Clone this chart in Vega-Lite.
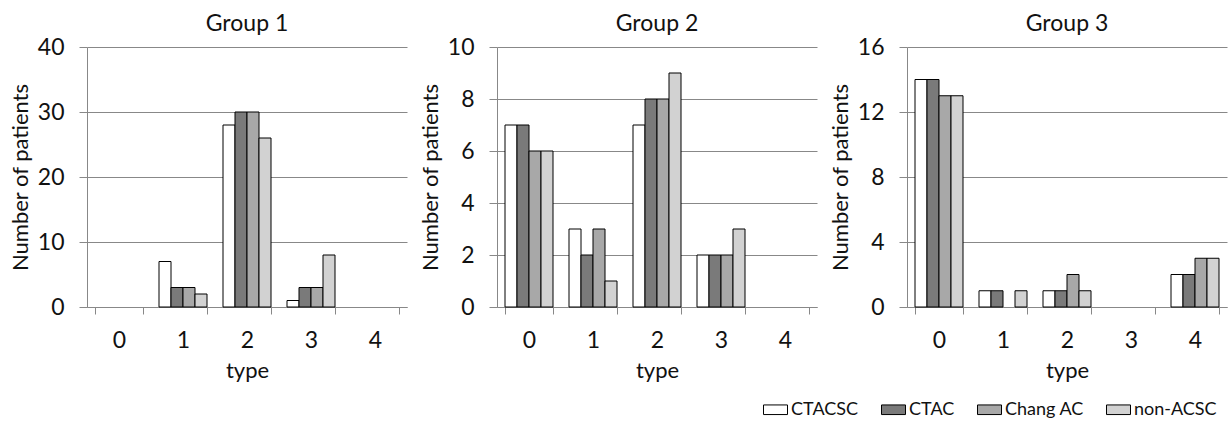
{
  "$schema": "https://vega.github.io/schema/vega-lite/v6.json",
  "background": "white",
  "padding": {"left": 9, "top": 13, "right": 2, "bottom": 0},
  "bounds": "flush",
  "spacing": 90,
  "config": {
    "font": "Lato",
    "view": {"stroke": null},
    "axis": {
      "labelFont": "Lato", "labelColor": "#111", "labelFontSize": 23,
      "titleFont": "Lato", "titleColor": "#111", "titleFontSize": 22, "titleFontWeight": "normal",
      "domainColor": "#888", "tickColor": "#888", "gridColor": "#888", "gridOpacity": 1, "gridWidth": 1
    },
    "title": {"font": "Lato", "fontSize": 23, "fontWeight": "normal", "color": "#111", "frame": "group", "anchor": "middle"}
  },
  "data": {"values": [
    {"group": "Group 1", "type": "1", "series": "CTACSC", "n": 7},
    {"group": "Group 1", "type": "1", "series": "CTAC", "n": 3},
    {"group": "Group 1", "type": "1", "series": "Chang AC", "n": 3},
    {"group": "Group 1", "type": "1", "series": "non-ACSC", "n": 2},
    {"group": "Group 1", "type": "2", "series": "CTACSC", "n": 28},
    {"group": "Group 1", "type": "2", "series": "CTAC", "n": 30},
    {"group": "Group 1", "type": "2", "series": "Chang AC", "n": 30},
    {"group": "Group 1", "type": "2", "series": "non-ACSC", "n": 26},
    {"group": "Group 1", "type": "3", "series": "CTACSC", "n": 1},
    {"group": "Group 1", "type": "3", "series": "CTAC", "n": 3},
    {"group": "Group 1", "type": "3", "series": "Chang AC", "n": 3},
    {"group": "Group 1", "type": "3", "series": "non-ACSC", "n": 8},
    {"group": "Group 2", "type": "0", "series": "CTACSC", "n": 7},
    {"group": "Group 2", "type": "0", "series": "CTAC", "n": 7},
    {"group": "Group 2", "type": "0", "series": "Chang AC", "n": 6},
    {"group": "Group 2", "type": "0", "series": "non-ACSC", "n": 6},
    {"group": "Group 2", "type": "1", "series": "CTACSC", "n": 3},
    {"group": "Group 2", "type": "1", "series": "CTAC", "n": 2},
    {"group": "Group 2", "type": "1", "series": "Chang AC", "n": 3},
    {"group": "Group 2", "type": "1", "series": "non-ACSC", "n": 1},
    {"group": "Group 2", "type": "2", "series": "CTACSC", "n": 7},
    {"group": "Group 2", "type": "2", "series": "CTAC", "n": 8},
    {"group": "Group 2", "type": "2", "series": "Chang AC", "n": 8},
    {"group": "Group 2", "type": "2", "series": "non-ACSC", "n": 9},
    {"group": "Group 2", "type": "3", "series": "CTACSC", "n": 2},
    {"group": "Group 2", "type": "3", "series": "CTAC", "n": 2},
    {"group": "Group 2", "type": "3", "series": "Chang AC", "n": 2},
    {"group": "Group 2", "type": "3", "series": "non-ACSC", "n": 3},
    {"group": "Group 3", "type": "0", "series": "CTACSC", "n": 14},
    {"group": "Group 3", "type": "0", "series": "CTAC", "n": 14},
    {"group": "Group 3", "type": "0", "series": "Chang AC", "n": 13},
    {"group": "Group 3", "type": "0", "series": "non-ACSC", "n": 13},
    {"group": "Group 3", "type": "1", "series": "CTACSC", "n": 1},
    {"group": "Group 3", "type": "1", "series": "CTAC", "n": 1},
    {"group": "Group 3", "type": "1", "series": "non-ACSC", "n": 1},
    {"group": "Group 3", "type": "2", "series": "CTACSC", "n": 1},
    {"group": "Group 3", "type": "2", "series": "CTAC", "n": 1},
    {"group": "Group 3", "type": "2", "series": "Chang AC", "n": 2},
    {"group": "Group 3", "type": "2", "series": "non-ACSC", "n": 1},
    {"group": "Group 3", "type": "4", "series": "CTACSC", "n": 2},
    {"group": "Group 3", "type": "4", "series": "CTAC", "n": 2},
    {"group": "Group 3", "type": "4", "series": "Chang AC", "n": 3},
    {"group": "Group 3", "type": "4", "series": "non-ACSC", "n": 3}
  ]},
  "resolve": {"scale": {"y": "independent"}, "legend": {"color": "independent"}},
  "hconcat": [
    {
      "title": {"text": "Group 1", "offset": 0},
      "width": 320, "height": 260,
      "transform": [{"filter": "datum.group === 'Group 1'"}],
      "mark": {"type": "bar", "stroke": "black", "strokeWidth": 1},
      "encoding": {
        "x": {"field": "type", "type": "ordinal", "scale": {"domain": ["0","1","2","3","4"], "paddingInner": 0.25, "paddingOuter": 0.125},
              "axis": {"title": "type", "labelAngle": 0, "tickBand": "extent", "tickSize": 7, "labelPadding": 15, "titlePadding": 8}},
        "xOffset": {"field": "series", "type": "nominal", "scale": {"domain": ["CTACSC", "CTAC", "Chang AC", "non-ACSC"], "paddingInner": 0, "paddingOuter": 0}},
        "y": {"field": "n", "type": "quantitative", "scale": {"domain": [0, 40]},
              "axis": {"title": "Number of patients", "values": [0, 10, 20, 30, 40], "tickSize": 8, "labelPadding": 15, "titlePadding": 5}},
        "color": {"field": "series", "type": "nominal", "scale": {"domain": ["CTACSC", "CTAC", "Chang AC", "non-ACSC"], "range": ["#ffffff", "#7a7a7a", "#a8a8a8", "#d2d2d2"]}, "legend": null}
      }
    },
    {
      "title": {"text": "Group 2", "offset": 0},
      "width": 320, "height": 260,
      "transform": [{"filter": "datum.group === 'Group 2'"}],
      "mark": {"type": "bar", "stroke": "black", "strokeWidth": 1},
      "encoding": {
        "x": {"field": "type", "type": "ordinal", "scale": {"domain": ["0","1","2","3","4"], "paddingInner": 0.25, "paddingOuter": 0.125},
              "axis": {"title": "type", "labelAngle": 0, "tickBand": "extent", "tickSize": 7, "labelPadding": 15, "titlePadding": 8}},
        "xOffset": {"field": "series", "type": "nominal", "scale": {"domain": ["CTACSC", "CTAC", "Chang AC", "non-ACSC"], "paddingInner": 0, "paddingOuter": 0}},
        "y": {"field": "n", "type": "quantitative", "scale": {"domain": [0, 10]},
              "axis": {"title": "Number of patients", "values": [0, 2, 4, 6, 8, 10], "tickSize": 8, "labelPadding": 15, "titlePadding": 5}},
        "color": {"field": "series", "type": "nominal", "scale": {"domain": ["CTACSC", "CTAC", "Chang AC", "non-ACSC"], "range": ["#ffffff", "#7a7a7a", "#a8a8a8", "#d2d2d2"]}, "legend": null}
      }
    },
    {
      "title": {"text": "Group 3", "offset": 0},
      "width": 320, "height": 260,
      "transform": [{"filter": "datum.group === 'Group 3'"}],
      "mark": {"type": "bar", "stroke": "black", "strokeWidth": 1},
      "encoding": {
        "x": {"field": "type", "type": "ordinal", "scale": {"domain": ["0","1","2","3","4"], "paddingInner": 0.25, "paddingOuter": 0.125},
              "axis": {"title": "type", "labelAngle": 0, "tickBand": "extent", "tickSize": 7, "labelPadding": 15, "titlePadding": 8}},
        "xOffset": {"field": "series", "type": "nominal", "scale": {"domain": ["CTACSC", "CTAC", "Chang AC", "non-ACSC"], "paddingInner": 0, "paddingOuter": 0}},
        "y": {"field": "n", "type": "quantitative", "scale": {"domain": [0, 16]},
              "axis": {"title": "Number of patients", "values": [0, 4, 8, 12, 16], "tickSize": 8, "labelPadding": 15, "titlePadding": 5}},
        "color": {"field": "series", "type": "nominal", "scale": {"domain": ["CTACSC", "CTAC", "Chang AC", "non-ACSC"], "range": ["#ffffff", "#7a7a7a", "#a8a8a8", "#d2d2d2"]},
                  "legend": {"title": null, "orient": "none", "legendX": -144, "legendY": 350, "direction": "horizontal", "columns": 4, "columnPadding": 20, "padding": 0,
                             "symbolType": "M-1,-0.4H1V0.4H-1Z", "symbolSize": 576, "symbolStrokeColor": "black", "symbolStrokeWidth": 1, "symbolOpacity": 1,
                             "labelFont": "Lato", "labelFontSize": 18, "labelColor": "#111", "labelOffset": 3}}
      }
    }
  ]
}
